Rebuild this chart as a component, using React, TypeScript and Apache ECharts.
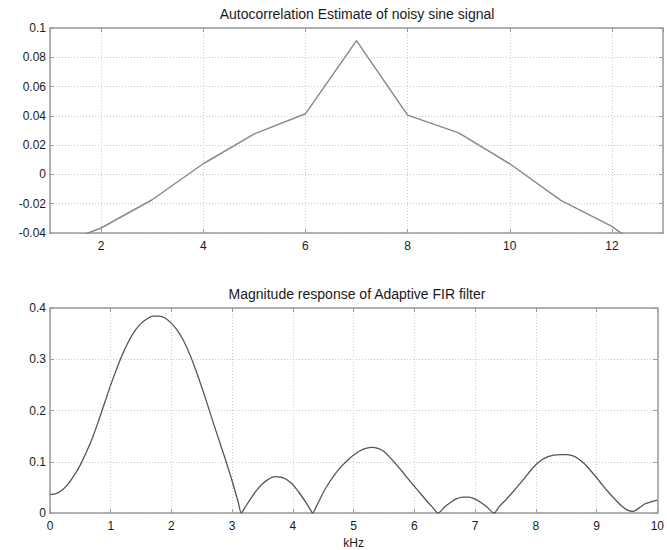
import React, { useEffect, useRef } from "react";
import * as echarts from "echarts";

const topTitle = "Autocorrelation Estimate of noisy sine signal";
const bottomTitle = "Magnitude response of Adaptive FIR filter";
const bottomXName = "kHz";

const lags = [1, 2, 3, 4, 5, 6, 7, 8, 9, 10, 11, 12, 13];
const autocorr = [-0.05, -0.0366, -0.0173, 0.0073, 0.0277, 0.0414, 0.0914, 0.0405, 0.0284, 0.0073, -0.0177, -0.0355, -0.061];

const freqKHz = [
  0, 0.1, 0.2, 0.3, 0.4, 0.5, 0.6, 0.7, 0.8, 0.9,
  1.0, 1.1, 1.2, 1.3, 1.4, 1.5, 1.6, 1.7, 1.8, 1.9,
  2.0, 2.1, 2.2, 2.3, 2.4, 2.5, 2.6, 2.7, 2.8, 2.9,
  3.0, 3.1, 3.15, 3.2, 3.3, 3.4, 3.5, 3.6, 3.7, 3.8, 3.9,
  4.0, 4.1, 4.2, 4.3, 4.32, 4.4, 4.5, 4.6, 4.7, 4.8, 4.9,
  5.0, 5.1, 5.2, 5.3, 5.4, 5.5, 5.6, 5.7, 5.8, 5.9,
  6.0, 6.1, 6.2, 6.3, 6.39, 6.5, 6.6, 6.7, 6.8, 6.9,
  7.0, 7.1, 7.2, 7.31, 7.4, 7.5, 7.6, 7.7, 7.8, 7.9,
  8.0, 8.1, 8.2, 8.3, 8.4, 8.5, 8.6, 8.7, 8.8, 8.9,
  9.0, 9.1, 9.2, 9.3, 9.4, 9.5, 9.6, 9.7, 9.8, 9.9, 10.0,
];
const magnitude = [
  0.036, 0.038, 0.045, 0.057, 0.074, 0.094, 0.119, 0.147, 0.18, 0.215,
  0.25, 0.282, 0.311, 0.336, 0.356, 0.37, 0.379, 0.384, 0.384, 0.38,
  0.37, 0.356, 0.336, 0.31, 0.279, 0.245, 0.209, 0.172, 0.136, 0.1,
  0.062, 0.021, 0.0, 0.009, 0.027, 0.044, 0.057, 0.066, 0.071, 0.07, 0.065,
  0.055, 0.04, 0.023, 0.004, 0.0, 0.016, 0.04, 0.06, 0.077, 0.091, 0.103,
  0.113, 0.121, 0.126, 0.128, 0.126, 0.12, 0.108, 0.095, 0.081, 0.066,
  0.052, 0.038, 0.024, 0.011, 0.0, 0.012, 0.021, 0.028, 0.031, 0.031,
  0.027, 0.02, 0.011, 0.0, 0.013, 0.025, 0.038, 0.052, 0.066, 0.081,
  0.094, 0.104, 0.11, 0.113, 0.114, 0.114, 0.112, 0.106, 0.096, 0.083,
  0.069, 0.054, 0.04, 0.027, 0.015, 0.006, 0.003, 0.01, 0.018, 0.022, 0.025,
];

const FONT = "'Liberation Sans', Arial, sans-serif";
const TEXT_COLOR = "#1a1a1a";
const BOX_COLOR = "#9a9a9a";
const GRID_COLOR = "#c8c8c8";
const TICK_FONT = 12;
const TITLE_FONT = 14;

function mainX(gridIndex: number, min: number, max: number, extra: any) {
  return {
    type: "value",
    gridIndex,
    min,
    max,
    position: "bottom",
    axisLine: { show: true, onZero: false, lineStyle: { color: BOX_COLOR, width: 1.5 } },
    axisTick: { show: true, inside: true, length: 4, lineStyle: { color: BOX_COLOR } },
    axisLabel: { show: true, color: TEXT_COLOR, fontSize: TICK_FONT, fontFamily: FONT, margin: 7 },
    splitLine: { show: true, lineStyle: { color: GRID_COLOR, type: [1, 2], width: 1 } },
    ...extra,
  };
}
function sideX(gridIndex: number, min: number, max: number, extra: any) {
  return {
    type: "value",
    gridIndex,
    min,
    max,
    position: "top",
    axisLine: { show: true, onZero: false, lineStyle: { color: BOX_COLOR, width: 1.5 } },
    axisTick: { show: true, inside: true, length: 4, lineStyle: { color: BOX_COLOR } },
    axisLabel: { show: false },
    splitLine: { show: false },
    ...extra,
  };
}
function mainY(gridIndex: number, min: number, max: number, interval: number) {
  return {
    type: "value",
    gridIndex,
    min,
    max,
    interval,
    position: "left",
    axisLine: { show: true, onZero: false, lineStyle: { color: BOX_COLOR, width: 1.5 } },
    axisTick: { show: true, inside: true, length: 4, lineStyle: { color: BOX_COLOR } },
    axisLabel: { show: true, color: TEXT_COLOR, fontSize: TICK_FONT, fontFamily: FONT, margin: 4 },
    splitLine: { show: true, lineStyle: { color: GRID_COLOR, type: [1, 2], width: 1 } },
  };
}
function sideY(gridIndex: number, min: number, max: number, interval: number) {
  return {
    type: "value",
    gridIndex,
    min,
    max,
    interval,
    position: "right",
    axisLine: { show: true, onZero: false, lineStyle: { color: BOX_COLOR, width: 1.5 } },
    axisTick: { show: true, inside: true, length: 4, lineStyle: { color: BOX_COLOR } },
    axisLabel: { show: false },
    splitLine: { show: false },
  };
}

export default function App() {
  const ref = useRef<HTMLDivElement>(null);
  useEffect(() => {
    if (!ref.current) return;
    const chart = echarts.init(ref.current, undefined, { renderer: "svg" });
    const topXExtra = {
      splitNumber: 6,
      axisLabel: { show: true, color: TEXT_COLOR, fontSize: TICK_FONT, fontFamily: FONT, margin: 7, showMinLabel: false, showMaxLabel: false },
    };
    const option: any = {
      animation: false,
      backgroundColor: "#ffffff",
      grid: [
        { left: 50, top: 28, width: 613, height: 205 },
        { left: 50, top: 308, width: 613, height: 205 },
      ],
      xAxis: [
        mainX(0, 1, 13, topXExtra),
        sideX(0, 1, 13, { splitNumber: 6 }),
        mainX(1, 0, 10, {
          interval: 1,
          name: bottomXName,
          nameLocation: "middle",
          nameGap: 24,
          nameTextStyle: { color: TEXT_COLOR, fontSize: TICK_FONT, fontFamily: FONT },
        }),
        sideX(1, 0, 10, { interval: 1 }),
      ],
      yAxis: [
        mainY(0, -0.04, 0.1, 0.02),
        sideY(0, -0.04, 0.1, 0.02),
        mainY(1, 0, 0.4, 0.1),
        sideY(1, 0, 0.4, 0.1),
      ],
      graphic: [
        {
          type: "text",
          x: 357,
          y: 14,
          style: { text: topTitle, align: "center", verticalAlign: "middle", fill: TEXT_COLOR, font: `${TITLE_FONT}px ${FONT}` },
        },
        {
          type: "text",
          x: 357,
          y: 294,
          style: { text: bottomTitle, align: "center", verticalAlign: "middle", fill: TEXT_COLOR, font: `${TITLE_FONT}px ${FONT}` },
        },
      ],
      series: [
        {
          type: "line",
          xAxisIndex: 0,
          yAxisIndex: 0,
          data: lags.map((l, i) => [l, autocorr[i]]),
          showSymbol: false,
          symbol: "none",
          clip: true,
          lineStyle: { color: "#8a8a8a", width: 1.5 },
        },
        {
          type: "line",
          xAxisIndex: 2,
          yAxisIndex: 2,
          data: freqKHz.map((f, i) => [f, magnitude[i]]),
          showSymbol: false,
          symbol: "none",
          smooth: 0.3,
          clip: true,
          lineStyle: { color: "#555555", width: 1.3 },
        },
      ],
    };
    chart.setOption(option);
    return () => chart.dispose();
  }, []);
  return (
    <div
      ref={ref}
      style={{ position: "fixed", left: 0, top: 0, width: 667, height: 550, background: "#fff" }}
    />
  );
}
